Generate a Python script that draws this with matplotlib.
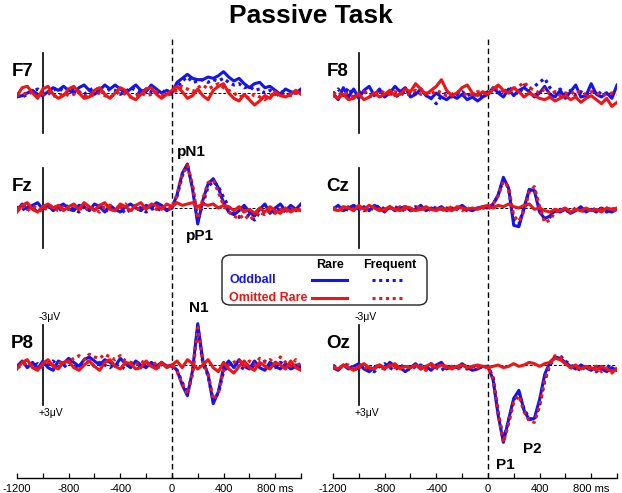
import matplotlib.pyplot as plt
import numpy as np
from matplotlib.patches import FancyBboxPatch
from matplotlib.lines import Line2D

plt.rcParams['font.family'] = ['Liberation Sans', 'DejaVu Sans']

# time grid (ms), one sample every 40 ms
t = np.arange(-1200, 1001, 40)

# values in microvolts (negative is drawn upward)
# rows of 14: -1200..-680 | -640..-120 | -80..440 | 480..1000
f7_odd_rare = [0.3, 0.2, 0.0, -0.2, 0.1, 0.2, -0.1, -0.4, -0.2, -0.5, -0.2, 0.0, -0.4, -0.6,
               -0.2, 0.1, -0.2, -0.6, -0.3, -0.6, -0.3, 0.0, -0.3, -0.6, -0.2, -0.1, -0.6, -0.3,
               0.0, -0.2, 0.0, -0.8, -1.1, -1.4, -1.1, -1.0, -1.0, -1.2, -1.1, -1.3, -1.6, -1.2,
               -0.9, -1.1, -0.7, -0.4, -0.7, -0.8, -0.4, -0.5, -0.2, 0.1, -0.3, -0.1, 0.0, -0.3]
f7_odd_freq = [0.1, 0.3, 0.1, -0.1, -0.3, 0.0, 0.1, -0.2, -0.4, -0.1, 0.0, -0.3, -0.1, 0.1,
               -0.2, -0.4, -0.1, 0.0, -0.3, -0.2, 0.1, -0.1, -0.4, -0.2, 0.0, -0.3, -0.1, 0.0,
               -0.2, 0.0, 0.1, -0.4, -0.9, -1.2, -0.8, -0.9, -1.0, -0.8, -1.0, -0.9, -1.1, -0.8,
               -0.6, -0.7, -0.4, -0.5, -0.2, -0.3, 0.0, -0.2, 0.1, -0.1, 0.0, 0.2, -0.1, 0.0]
f7_om_rare = [0.2, -0.4, -0.5, 0.0, 0.4, -0.3, -0.5, 0.1, 0.4, 0.2, -0.3, -0.5, 0.0, 0.4,
              0.3, -0.2, -0.4, 0.1, 0.4, 0.0, -0.4, -0.2, 0.3, 0.5, 0.1, -0.3, -0.4, 0.1,
              0.4, 0.1, -0.2, -0.5, -0.1, 0.4, 0.2, -0.3, 0.2, 0.5, -0.2, -0.5, -0.7, 0.0,
              0.4, 0.6, 0.1, 0.5, 0.9, 0.6, 0.2, 0.4, -0.1, 0.2, 0.3, 0.1, -0.2, 0.1]
f7_om_freq = [0.1, 0.2, -0.1, 0.0, 0.3, 0.1, -0.1, 0.2, 0.3, 0.0, 0.2, 0.1, -0.1, 0.2,
              0.3, 0.1, 0.0, 0.2, 0.3, 0.1, -0.1, 0.1, 0.3, 0.2, 0.0, 0.2, 0.1, -0.1,
              0.1, 0.2, 0.0, -0.2, -0.5, -0.3, -0.1, -0.4, -0.6, -0.3, -0.5, -0.7, -0.4, -0.2,
              0.0, 0.3, 0.2, 0.4, 0.1, 0.3, 0.5, 0.2, 0.0, 0.3, 0.1, 0.2, 0.0, 0.1]

f8_odd_rare = [0.0, 0.5, -0.4, 0.3, -0.3, 0.4, -0.2, -0.5, 0.2, -0.3, 0.3, 0.0, -0.5, -0.1,
               -0.4, 0.3, 0.1, -0.3, 0.2, 0.4, 0.0, 0.3, 0.5, 0.2, 0.4, 0.1, 0.5, 0.3,
               0.6, 0.3, 0.1, -0.4, 0.0, 0.3, -0.3, 0.2, -0.2, -0.4, -0.1, 0.3, 0.0, -0.5,
               0.1, 0.3, -0.2, 0.4, -0.1, -0.6, 0.3, 0.2, -0.7, 0.1, 0.3, 0.0, 0.4, -0.6]
f8_odd_freq = [0.1, -0.3, 0.2, -0.4, 0.3, 0.0, -0.2, 0.3, 0.1, -0.2, 0.2, -0.1, 0.3, 0.1,
               -0.1, 0.2, 0.0, -0.3, 0.1, 0.4, 0.8, 0.2, 0.0, 0.3, 0.1, -0.1, 0.2, 0.0,
               0.3, 0.1, -0.1, -0.3, -0.1, 0.0, -0.4, -0.2, 0.1, -0.6, -0.3, -0.5, -0.8, -1.1,
               -0.4, 0.0, -0.3, 0.1, -0.2, 0.2, -0.1, 0.1, 0.0, -0.2, 0.1, 0.0, 0.2, 0.1]
f8_om_rare = [0.2, 0.4, 0.1, 0.5, 0.4, 0.1, 0.5, 0.3, 0.0, 0.3, 0.1, -0.2, 0.2, 0.1,
              -0.3, -0.1, -0.7, -0.3, 0.1, -0.2, -0.5, -1.0, -0.2, 0.2, 0.0, -0.4, -0.6, 0.0,
              0.2, -0.1, 0.1, -0.3, -0.6, -0.2, 0.0, -0.4, -0.1, 0.3, 0.0, 0.2, 0.4, 0.5,
              0.3, 0.6, 0.4, 0.2, 0.5, 0.3, 0.7, 0.4, 0.2, 0.5, 0.8, 0.4, 1.0, 0.7]
f8_om_freq = [0.0, 0.2, -0.1, 0.1, 0.3, 0.0, -0.1, 0.2, 0.1, -0.2, 0.0, 0.1, -0.1, 0.0,
              0.2, 0.0, -0.2, 0.1, 0.0, 0.1, -0.2, 0.0, 0.2, 0.1, -0.1, 0.0, 0.2, 0.1,
              -0.1, 0.0, 0.1, -0.2, -0.4, -0.1, 0.0, -0.3, -0.5, -0.8, -0.4, -0.2, 0.0, -0.3,
              0.1, -0.1, 0.2, 0.0, 0.1, -0.2, 0.0, 0.1, -0.1, 0.0, 0.2, 0.1, 0.0, 0.1]

fz_odd_rare = [0.2, -0.3, 0.1, -0.2, -0.4, 0.1, -0.2, 0.2, -0.1, -0.3, 0.1, 0.2, -0.2, -0.1,
               0.2, -0.3, -0.1, 0.3, -0.2, 0.1, 0.3, -0.1, -0.3, 0.0, 0.2, -0.2, 0.0, -0.4,
               -0.2, 0.2, 0.0, -1.0, -2.6, -3.3, -1.4, 1.2, -0.6, -1.8, -2.2, -1.5, -0.4, 0.3,
               0.5, 0.2, -0.2, 0.3, 0.6, 0.1, -0.3, 0.4, 0.0, -0.3, 0.2, -0.2, 0.1, -0.3]
fz_odd_freq = [-0.1, 0.2, -0.2, 0.0, 0.3, -0.1, 0.1, -0.3, 0.2, 0.0, -0.2, 0.1, 0.3, -0.1,
               0.0, 0.2, -0.2, 0.1, 0.3, -0.1, 0.0, 0.4, 0.1, -0.2, 0.0, 0.3, 0.1, 0.0,
               0.2, -0.1, 0.0, -0.9, -2.4, -3.2, -1.6, 0.9, -0.3, -1.6, -2.0, -1.6, -0.8, -0.1,
               0.4, 0.7, 0.2, 0.6, 0.9, 0.3, 0.5, 0.1, 0.4, 0.0, 0.3, 0.1, 0.2, 0.0]
fz_om_rare = [0.3, -0.2, -0.4, 0.1, 0.3, -0.1, -0.3, 0.0, -0.2, 0.2, -0.1, -0.3, 0.1, -0.4,
              -0.1, 0.2, -0.2, -0.4, 0.1, 0.2, -0.3, -0.1, 0.2, -0.2, -0.4, 0.1, -0.3, -0.2,
              0.1, -0.3, -0.1, -0.4, -0.2, -0.3, -0.4, -0.1, -0.3, -0.2, -0.3, 0.0, -0.2, -0.1,
              0.2, -0.1, 0.3, 0.1, 0.4, 0.0, 0.3, -0.1, 0.2, 0.4, 0.0, 0.3, 0.1, 0.2]
fz_om_freq = [0.1, -0.2, 0.2, -0.1, 0.0, 0.3, -0.2, 0.0, 0.2, -0.1, 0.1, -0.2, 0.0, 0.2,
              -0.1, 0.1, 0.3, -0.1, -0.2, 0.2, 0.0, -0.3, 0.1, 0.2, -0.1, 0.0, -0.2, 0.1,
              0.0, 0.1, 0.0, -1.0, -2.5, -3.2, -1.7, 0.8, -0.7, -1.9, -2.1, -1.2, -0.2, 0.3,
              0.6, 0.8, 0.5, 0.9, 0.6, 0.3, 0.5, 0.2, 0.4, 0.1, 0.3, 0.0, 0.2, 0.1]

cz_odd_rare = [0.1, -0.2, 0.2, 0.0, -0.2, 0.1, -0.1, 0.2, -0.2, 0.0, 0.3, -0.1, 0.2, 0.0,
               -0.1, 0.2, 0.1, -0.2, 0.2, 0.0, 0.1, -0.1, 0.2, 0.0, 0.1, -0.2, 0.1, 0.2,
               0.0, -0.1, 0.0, -0.3, -1.0, -2.3, -1.5, 1.3, 1.4, 0.0, -1.4, -1.3, 0.3, 0.8,
               0.6, 0.2, 0.3, 0.1, 0.4, 0.2, -0.1, 0.3, 0.1, 0.3, 0.0, 0.2, 0.3, 0.1]
cz_odd_freq = [0.0, 0.1, -0.1, 0.2, 0.0, -0.1, 0.2, 0.0, 0.1, -0.2, 0.1, 0.0, -0.1, 0.1,
               0.2, 0.0, -0.1, 0.1, 0.0, 0.2, -0.1, 0.1, 0.0, 0.2, -0.1, 0.0, 0.2, 0.1,
               0.1, -0.1, 0.0, -0.2, -1.0, -2.1, -1.5, 0.9, 1.2, 0.0, -1.3, -1.4, 0.0, 0.8,
               0.7, 0.2, 0.1, 0.2, 0.3, 0.0, 0.2, 0.1, 0.2, 0.0, 0.1, 0.3, 0.1, 0.0]
cz_om_rare = [0.1, 0.2, -0.1, 0.0, 0.2, -0.2, 0.1, -0.2, 0.0, 0.2, 0.1, -0.1, 0.1, 0.2,
              -0.1, 0.0, 0.2, 0.1, -0.1, 0.1, 0.2, 0.0, 0.1, 0.2, -0.1, 0.0, 0.1, 0.0,
              0.1, -0.1, -0.2, 0.0, -0.2, -0.1, -0.3, -0.1, 0.0, -0.2, -0.3, 0.1, 0.0, 0.2,
              0.3, 0.1, 0.2, 0.0, 0.3, 0.1, 0.2, 0.0, 0.2, 0.1, 0.3, 0.0, 0.1, 0.0]
cz_om_freq = [0.0, 0.1, 0.2, -0.1, 0.1, 0.0, 0.2, 0.1, -0.1, 0.1, 0.2, 0.0, 0.1, -0.1,
              0.1, 0.2, 0.0, -0.1, 0.2, 0.1, 0.0, 0.2, 0.1, -0.1, 0.1, 0.2, 0.0, 0.1,
              0.0, 0.0, 0.1, -0.3, -0.9, -2.0, -1.6, 0.6, 1.0, 0.2, -1.2, -1.6, -0.1, 1.1,
              0.9, 0.3, 0.2, 0.0, 0.3, 0.1, 0.2, 0.3, 0.0, 0.2, 0.1, 0.0, 0.2, 0.1]

p8_odd_rare = [0.1, -0.3, 0.2, -0.2, 0.3, -0.3, 0.2, 0.4, -0.3, -0.1, -0.5, -0.2, 0.1, -0.4,
               -0.6, -0.3, 0.0, -0.4, -0.2, 0.1, -0.5, -0.1, 0.2, -0.3, 0.0, 0.2, -0.2, 0.1,
               -0.2, 0.1, 0.0, 0.4, 1.5, 2.3, 0.4, -3.1, -0.3, 0.7, 2.9, 2.0, 0.2, -0.3,
               0.2, -0.4, 0.1, 0.3, -0.3, 0.2, 0.4, -0.2, 0.1, 0.3, -0.1, 0.3, 0.0, 0.2]
p8_odd_freq = [0.2, 0.0, -0.2, 0.1, -0.1, 0.2, 0.0, -0.3, 0.1, 0.2, -0.2, 0.0, 0.2, -0.1,
               -0.3, 0.1, -0.2, 0.0, 0.2, -0.1, 0.1, 0.3, -0.2, 0.0, 0.2, -0.1, 0.0, 0.2,
               0.1, 0.0, 0.1, 0.4, 1.3, 2.1, 0.6, -2.9, -0.1, 0.8, 2.7, 2.1, 0.5, 0.0,
               -0.2, 0.1, 0.3, -0.1, 0.2, 0.0, -0.3, 0.1, 0.2, -0.2, 0.0, 0.3, 0.1, -0.1]
p8_om_rare = [0.3, -0.2, -0.4, 0.2, 0.4, -0.1, -0.4, 0.1, 0.3, -0.2, -0.3, 0.2, 0.4, 0.0,
              -0.3, 0.1, 0.4, -0.2, -0.4, 0.1, 0.3, -0.2, -0.1, 0.3, 0.2, -0.3, 0.1, 0.3,
              -0.2, 0.2, 0.0, -0.3, 0.2, -0.4, -0.1, 0.3, 0.0, -0.4, 0.2, 0.5, -0.2, 0.3,
              0.6, 0.1, -0.3, 0.2, 0.4, -0.2, 0.1, 0.3, -0.2, 0.0, 0.3, -0.3, 0.2, 0.4]
p8_om_freq = [0.2, 0.0, -0.2, 0.1, 0.3, 0.0, -0.2, 0.1, -0.1, -0.3, -0.2, -0.5, -0.7, -0.4,
              -0.8, -0.6, -0.5, -0.8, -0.6, -0.4, -0.7, -0.3, -0.2, 0.0, -0.3, -0.1, 0.1, -0.2,
              0.0, 0.1, 0.0, 0.5, 1.4, 2.2, 0.6, -2.8, -0.2, 0.6, 2.6, 2.1, 0.4, 0.0,
              -0.2, -0.4, 0.1, -0.3, 0.0, -0.5, -0.2, -0.4, -0.1, -0.6, -0.2, 0.1, -0.4, 0.3]

oz_odd_rare = [0.2, 0.4, 0.0, 0.3, 0.1, -0.1, 0.3, 0.5, 0.2, 0.0, 0.3, -0.2, 0.1, 0.2,
               0.5, 0.2, -0.1, 0.3, 0.1, 0.4, 0.0, -0.2, 0.3, 0.1, 0.2, -0.1, 0.2, 0.4,
               0.3, 0.1, 0.1, 1.1, 3.8, 5.8, 4.1, 2.5, 1.9, 3.4, 4.1, 4.0, 2.6, 0.7,
               -0.2, -0.6, -0.5, -0.2, 0.1, 0.3, 0.0, 0.2, 0.4, 0.1, 0.3, 0.5, 0.2, 0.4]
oz_odd_freq = [0.0, 0.3, 0.1, -0.1, 0.4, 0.2, 0.0, 0.3, 0.5, 0.1, -0.1, 0.2, 0.4, 0.0,
               0.2, 0.4, 0.1, 0.0, 0.3, -0.1, 0.2, 0.4, 0.1, 0.3, 0.0, 0.2, 0.3, 0.1,
               0.1, 0.2, 0.1, 0.9, 3.6, 5.6, 4.2, 2.6, 2.1, 3.3, 4.0, 4.1, 3.0, 1.2,
               0.0, -0.5, -0.7, -0.3, 0.0, 0.2, 0.4, 0.1, 0.3, 0.5, 0.2, 0.0, 0.3, 0.5]
oz_om_rare = [0.1, 0.3, 0.0, 0.2, 0.4, 0.1, -0.1, 0.2, 0.3, 0.0, 0.2, 0.1, -0.1, 0.3,
              0.1, 0.2, 0.0, 0.3, 0.1, -0.1, 0.2, 0.0, 0.1, 0.3, 0.1, 0.0, 0.2, 0.1,
              0.0, 0.1, 0.2, 0.1, 0.0, 0.2, 0.1, -0.1, 0.1, 0.0, -0.2, -0.1, 0.1, -0.1,
              -0.2, -0.5, -0.4, -0.1, 0.2, 0.0, 0.3, 0.1, 0.2, 0.4, 0.1, 0.3, 0.5, 0.3]
oz_om_freq = [0.3, 0.1, 0.2, 0.0, 0.3, 0.2, 0.1, 0.4, 0.0, 0.2, 0.3, 0.0, 0.2, 0.1,
              0.3, 0.0, 0.2, 0.1, 0.4, 0.2, 0.1, 0.0, 0.2, 0.1, 0.3, 0.2, 0.0, 0.2,
              0.2, 0.1, 0.2, 1.0, 3.6, 5.8, 4.4, 2.8, 2.3, 3.5, 4.2, 4.3, 3.1, 1.1,
              -0.1, -0.7, -0.6, -0.1, 0.2, 0.3, 0.1, 0.4, 0.2, 0.1, 0.5, 0.3, 0.6, 0.2]

channels = ['F7', 'F8', 'Fz', 'Cz', 'P8', 'Oz']
series = {
    'F7': (f7_odd_rare, f7_odd_freq, f7_om_rare, f7_om_freq),
    'F8': (f8_odd_rare, f8_odd_freq, f8_om_rare, f8_om_freq),
    'Fz': (fz_odd_rare, fz_odd_freq, fz_om_rare, fz_om_freq),
    'Cz': (cz_odd_rare, cz_odd_freq, cz_om_rare, cz_om_freq),
    'P8': (p8_odd_rare, p8_odd_freq, p8_om_rare, p8_om_freq),
    'Oz': (oz_odd_rare, oz_odd_freq, oz_om_rare, oz_om_freq),
}
peak_labels = {
    'Fz': [('pN1', 150, -4.2), ('pP1', 215, 2.1)],
    'P8': [('N1', 205, -4.3)],
    'Oz': [('P1', 135, 7.5), ('P2', 345, 6.3)],
}
major_ticks = [-1200, -800, -400, 0, 400, 800]
tick_labels = ['-1200', '-800', '-400', '0', '400', '800 ms']

BLUE = '#1414f0'
RED = '#f01414'

# layout in pixels of the 622x493 picture
W, H = 622, 493
TOP, BOTTOM = 38, 478
PX_UV = 40 / 3.0               # 3 uV is 40 px
row_px = [93, 208, 365]        # baseline of each row

fig = plt.figure(figsize=(W / 100, H / 100), dpi=100)
axes = []
for left in (17, 333):
    ax = fig.add_axes([left / W, (H - BOTTOM) / H, 284 / W, (BOTTOM - TOP) / H])
    ax.set_xlim(-1200, 1000)
    ax.set_ylim((BOTTOM - TOP) / PX_UV, 0)   # inverted: negative up
    for s in ('left', 'right', 'top'):
        ax.spines[s].set_visible(False)
    ax.spines['bottom'].set_linewidth(1.0)
    ax.set_yticks([])
    ax.set_xticks(major_ticks)
    ax.set_xticklabels(tick_labels)
    ax.set_xticks(np.arange(-1200, 1001, 200), minor=True)
    ax.tick_params(axis='x', which='both', direction='in', length=3.5, width=0.9,
                   labelsize=8, pad=4)
    ax.axvline(0, color='k', lw=1.0, ls=(0, (4, 2.5)), zorder=1)
    axes.append(ax)

for k, ch in enumerate(channels):
    ax = axes[k % 2]
    base = (row_px[k // 2] - TOP) / PX_UV
    odd_rare, odd_freq, om_rare, om_freq = series[ch]
    ax.plot([-1000, 1000], [base, base], color='k', lw=0.7, ls=(0, (3, 2)), zorder=1)
    ax.plot([-1000, -1000], [base - 3, base + 3], color='k', lw=1.2, zorder=1)
    ax.plot(t, base + np.array(odd_rare), color=BLUE, lw=2.2, zorder=2)
    ax.plot(t, base + np.array(odd_freq), color=BLUE, lw=2.3, ls=(0, (1, 1.2)), zorder=3)
    ax.plot(t, base + np.array(om_freq), color=RED, lw=2.3, ls=(0, (1, 1.2)), zorder=4)
    ax.plot(t, base + np.array(om_rare), color=RED, lw=2.2, zorder=5)
    ax.text(-1160, base - 1.6, ch, ha='center', va='center', fontsize=13.5,
            fontweight='bold')
    for lab, x, y in peak_labels.get(ch, []):
        ax.text(x, base + y, lab, ha='center', va='center', fontsize=11,
                fontweight='bold')
    if k // 2 == 2:
        ax.text(-1030, base - 3.2, '-3\u03bcV', ha='left', va='bottom', fontsize=7.5)
        ax.text(-1030, base + 3.2, '+3\u03bcV', ha='left', va='top', fontsize=7.5)

fig.text(311 / W, 1 - 16 / H, 'Passive Task', ha='center', va='center',
         fontsize=19, fontweight='bold')

# legend box
box = FancyBboxPatch((222 / W, 1 - 305 / H), 205 / W, 50 / H,
                     boxstyle='round,pad=0,rounding_size=0.014',
                     transform=fig.transFigure, facecolor='white',
                     edgecolor='#222222', lw=1.0, zorder=10)
fig.add_artist(box)
fig.text(330 / W, 1 - 265 / H, 'Rare', ha='center', va='center', fontsize=9,
         fontweight='bold', zorder=11)
fig.text(390 / W, 1 - 265 / H, 'Frequent', ha='center', va='center', fontsize=9,
         fontweight='bold', zorder=11)
for name, col, y in (('Oddball', BLUE, 280), ('Omitted Rare', RED, 298)):
    fig.text(229 / W, 1 - y / H, name, ha='left', va='center', fontsize=9,
             fontweight='bold', color=col, zorder=11)
    fig.add_artist(Line2D([312 / W, 347 / W], [1 - y / H, 1 - y / H], color=col,
                          lw=2.2, transform=fig.transFigure, zorder=11))
    fig.add_artist(Line2D([372 / W, 405 / W], [1 - y / H, 1 - y / H], color=col,
                          lw=2.2, ls=(0, (1, 1.2)), transform=fig.transFigure, zorder=11))

fig.savefig('out.png', dpi=100)
